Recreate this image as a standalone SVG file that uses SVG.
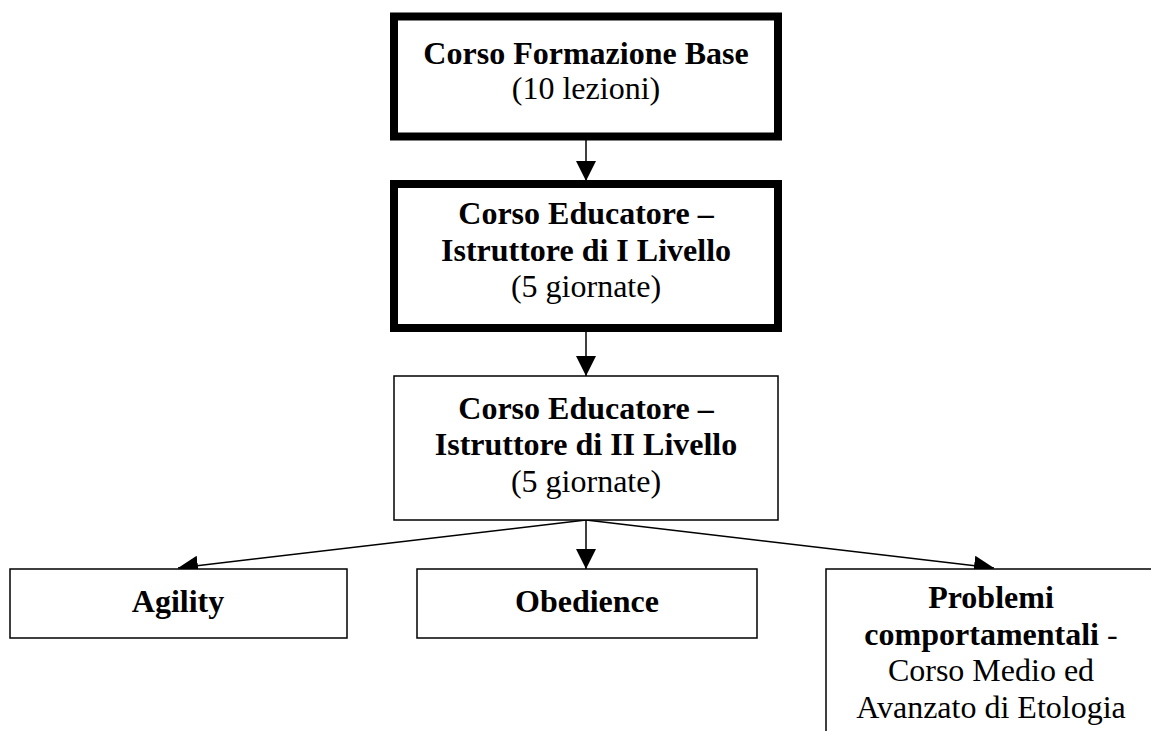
<svg xmlns="http://www.w3.org/2000/svg" width="1151" height="731" viewBox="0 0 1151 731">
<style>
.bg{fill:#fff}
.thick{fill:#fff;stroke:#000;stroke-width:8}
.thin{fill:#fff;stroke:#000;stroke-width:1.5}
.conn{stroke:#000;stroke-width:1.5;fill:none;marker-end:url(#ah)}
text{font-family:"Liberation Serif","Times New Roman",serif;font-size:32px;fill:#000;text-anchor:middle}
.b{font-weight:bold}
</style>
<defs>
<marker id="ah" markerUnits="userSpaceOnUse" markerWidth="20" markerHeight="20" refX="20" refY="10" orient="auto" viewBox="0 0 20 20">
<path d="M0,0 L20,10 L0,20 z" fill="#000"/>
</marker>
</defs>
<rect class="bg" x="0" y="0" width="1151" height="731"/>
<g id="connectors">
<line class="conn" x1="586" y1="140" x2="586" y2="181"/>
<line class="conn" x1="586" y1="332" x2="586" y2="376"/>
<line class="conn" x1="586" y1="520" x2="586" y2="569"/>
<line class="conn" x1="586" y1="520" x2="178" y2="568"/>
<line class="conn" x1="586" y1="520" x2="994" y2="568"/>
</g>
<g id="node-base">
<rect class="thick" x="394" y="16.5" width="384" height="120"/>
<text x="586" y="64" class="b">Corso Formazione Base</text>
<text x="586" y="99">(10 lezioni)</text>
</g>
<g id="node-liv1">
<rect class="thick" x="394" y="184" width="384" height="144"/>
<text x="586" y="224" class="b">Corso Educatore –</text>
<text x="586" y="261" class="b">Istruttore di I Livello</text>
<text x="586" y="297">(5 giornate)</text>
</g>
<g id="node-liv2">
<rect class="thin" x="394" y="376" width="384" height="144"/>
<text x="586" y="419" class="b">Corso Educatore –</text>
<text x="586" y="455" class="b">Istruttore di II Livello</text>
<text x="586" y="492">(5 giornate)</text>
</g>
<g id="node-agility">
<rect class="thin" x="10" y="569" width="337" height="69"/>
<text x="178" y="612" class="b">Agility</text>
</g>
<g id="node-obedience">
<rect class="thin" x="417" y="569" width="340" height="69"/>
<text x="587" y="612" class="b">Obedience</text>
</g>
<g id="node-problemi">
<path class="thin" d="M1153,569 H826 V732"/>
<text x="991" y="608" class="b">Problemi</text>
<text x="991" y="645"><tspan class="b">comportamentali</tspan> -</text>
<text x="991" y="681">Corso Medio ed</text>
<text x="991" y="718">Avanzato di Etologia</text>
</g>
</svg>
